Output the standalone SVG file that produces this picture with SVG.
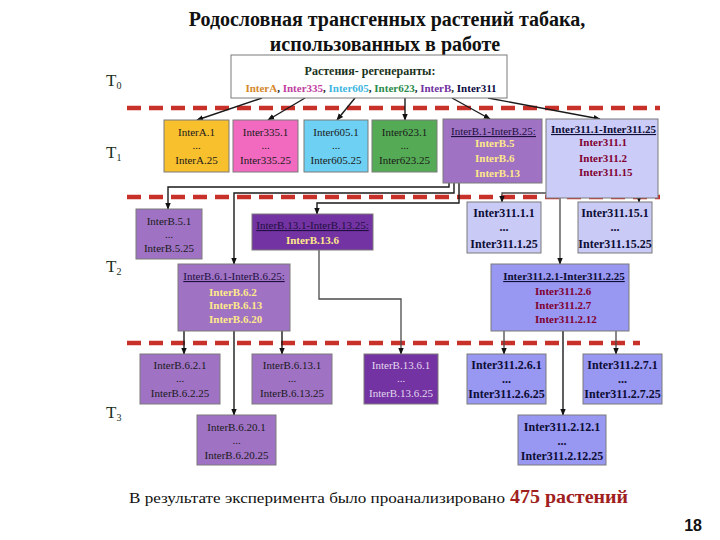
<svg xmlns="http://www.w3.org/2000/svg" width="720" height="540" viewBox="0 0 720 540">
<style>
.t{font-family:"Liberation Serif","Times New Roman",serif;}
.title{font-size:20px;font-weight:bold;fill:#111;text-anchor:middle}
.gl{font-size:17px;fill:#1a2e1a}
.gs{font-size:10px;fill:#1a2e1a}
.bx{stroke:#7a7a7a;stroke-width:1}
.yel{fill:#f9c02e}.pink{fill:#f26ac0}.blue{fill:#6ed0f2}.green{fill:#55ab55}
.pur{fill:#9f72c4}.dpur{fill:#7433a3}.lav{fill:#ccccf8}.lav2{fill:#c9cbf6}.peri{fill:#9898f2}
.n{font-size:11px;fill:#1a1a1a;text-anchor:middle}
.nb{font-size:12px;font-weight:bold;fill:#0d0d35;text-anchor:middle}
.hd{font-size:11px;fill:#1e1040;text-decoration:underline}
.hdb{font-size:11px;font-weight:bold;fill:#0d0d35;text-decoration:underline}
.yi{font-size:11px;font-weight:bold;fill:#ffe98a}
.ri{font-size:11px;font-weight:bold;fill:#800030}
.dash{stroke:#c8302a;stroke-width:4.5;stroke-dasharray:14 8;fill:none}
.c{fill:none;stroke:#1a1a1a;stroke-width:1.4}
.cg{fill:none;stroke:#4a4a4a;stroke-width:1.3}
.a{marker-end:url(#ah)}
</style>
<defs>
<marker id="ah" viewBox="0 0 10 10" refX="9" refY="5" markerWidth="7" markerHeight="7" markerUnits="userSpaceOnUse" orient="auto">
<path d="M0,1 L10,5 L0,9 z" fill="#111"/>
</marker>
</defs>
<rect width="720" height="540" fill="#fff"/>

<g id="title" class="t">
<text class="title t" x="387" y="26">Родословная трансгенных растений табака,</text>
<text class="title t" x="385" y="51">использованных в работе</text>
</g>

<g id="generations" class="t">
<text class="t gl" x="106" y="86">T<tspan class="gs" dy="3">0</tspan></text>
<text class="t gl" x="106" y="158">T<tspan class="gs" dy="3">1</tspan></text>
<text class="t gl" x="106" y="272">T<tspan class="gs" dy="3">2</tspan></text>
<text class="t gl" x="106" y="418">T<tspan class="gs" dy="3">3</tspan></text>
</g>

<g id="separators">
<line class="dash" x1="127" y1="108" x2="660" y2="108"/>
<line class="dash" x1="127" y1="197" x2="660" y2="197"/>
<line class="dash" x1="127" y1="343" x2="640" y2="343"/>
</g>

<g id="connectors">
<path class="c a" d="M262,98 L197,120"/>
<path class="c a" d="M305,98 L268,120"/>
<path class="c a" d="M355,98 L337,120"/>
<path class="c a" d="M405,98 L405,120"/>
<path class="c a" d="M452,98 L490,119"/>
<path class="c a" d="M488,98 L600,119"/>

<path class="c a" d="M472,143 H449 V187 H168 V209"/>
<path class="c a" d="M472,158 H454 V193 H234 V264"/>
<path class="c a" d="M473,173 H459 V203 H317 V214"/>

<path class="cg a" d="M577,143 H551 V193 H502 V202"/>
<path class="cg a" d="M578,158 H560 V264"/>
<path class="cg a" d="M630,172 H639 V202"/>

<path class="c a" d="M207,292 H184 V354"/>
<path class="c a" d="M264,302 H282 V354"/>
<path class="c a" d="M234,327 V415"/>
<path class="cg a" d="M319,250 V299 H401 V354"/>

<path class="cg a" d="M532,291 H504 V354"/>
<path class="c a" d="M563,327 V415"/>
<path class="cg a" d="M596,305 H616 V354"/>
</g>

<g id="root" class="t">
<rect class="bx" x="231" y="55" width="276" height="43" fill="#fff" stroke="#a0a0a0"/>
<text class="t" x="370" y="75" font-size="12" font-weight="bold" fill="#1a3320" text-anchor="middle">Растения- регенеранты:</text>
<text class="t" x="371" y="92" font-size="11" font-weight="bold" text-anchor="middle" fill="#111"><tspan fill="#d4872b">InterA</tspan>, <tspan fill="#c040a0">Inter335</tspan>, <tspan fill="#3fb6e0">Inter605</tspan>, <tspan fill="#2a8a4a">Inter623</tspan>, <tspan fill="#7030a0">InterB</tspan>, <tspan fill="#0a0a40">Inter311</tspan></text>
</g>

<g id="InterA" class="t">
<rect class="bx yel" x="164" y="120" width="65" height="52"/>
<text class="t n" x="196.5" y="136">InterA.1</text>
<text class="t n" x="196.5" y="149">...</text>
<text class="t n" x="196.5" y="164">InterA.25</text>
</g>
<g id="Inter335" class="t">
<rect class="bx pink" x="233" y="120" width="65" height="52"/>
<text class="t n" x="265.5" y="136">Inter335.1</text>
<text class="t n" x="265.5" y="149">...</text>
<text class="t n" x="265.5" y="164">Inter335.25</text>
</g>
<g id="Inter605" class="t">
<rect class="bx blue" x="304" y="120" width="64" height="52"/>
<text class="t n" x="336" y="136">Inter605.1</text>
<text class="t n" x="336" y="149">...</text>
<text class="t n" x="336" y="164">Inter605.25</text>
</g>
<g id="Inter623" class="t">
<rect class="bx green" x="372" y="120" width="65" height="52"/>
<text class="t n" x="404.5" y="136">Inter623.1</text>
<text class="t n" x="404.5" y="149">...</text>
<text class="t n" x="404.5" y="164">Inter623.25</text>
</g>
<g id="InterB" class="t">
<rect class="bx pur" x="443" y="119" width="99" height="64"/>
<text class="t hd" x="451" y="135">InterB.1-InterB.25:</text>
<text class="t yi" x="475" y="147">InterB.5</text>
<text class="t yi" x="475" y="162">InterB.6</text>
<text class="t yi" x="475" y="177">InterB.13</text>
</g>
<g id="Inter311" class="t">
<rect class="bx lav" x="546" y="119" width="112" height="79" stroke="#b0b0c8"/>
<text class="t hdb" x="551" y="133">Inter311.1-Inter311.25</text>
<text class="t ri" x="579" y="146">Inter311.1</text>
<text class="t ri" x="579" y="162">Inter311.2</text>
<text class="t ri" x="579" y="176">Inter311.15</text>
</g>

<g id="InterB5" class="t">
<rect class="bx pur" x="136" y="209" width="66" height="50"/>
<text class="t n" x="169" y="225">InterB.5.1</text>
<text class="t n" x="169" y="238">...</text>
<text class="t n" x="169" y="252">InterB.5.25</text>
</g>
<g id="InterB13" class="t">
<rect class="bx dpur" x="252" y="214" width="121" height="36"/>
<text class="t hd" x="312.5" y="229" text-anchor="middle">InterB.13.1-InterB.13.25:</text>
<text class="t yi" x="312.5" y="244" text-anchor="middle">InterB.13.6</text>
</g>
<g id="InterB6" class="t">
<rect class="bx pur" x="178" y="264" width="112" height="67"/>
<text class="t hd" x="234" y="280" text-anchor="middle">InterB.6.1-InterB.6.25:</text>
<text class="t yi" x="209" y="296">InterB.6.2</text>
<text class="t yi" x="209" y="309">InterB.6.13</text>
<text class="t yi" x="209" y="323">InterB.6.20</text>
</g>
<g id="Inter311_1" class="t">
<rect class="bx lav2" x="467" y="202" width="74" height="51"/>
<text class="t nb" x="504" y="217">Inter311.1.1</text>
<text class="t nb" x="504" y="231">...</text>
<text class="t nb" x="504" y="248">Inter311.1.25</text>
</g>
<g id="Inter311_15" class="t">
<rect class="bx lav2" x="578" y="202" width="74" height="51"/>
<text class="t nb" x="615" y="217">Inter311.15.1</text>
<text class="t nb" x="615" y="231">...</text>
<text class="t nb" x="615" y="248">Inter311.15.25</text>
</g>
<g id="Inter311_2" class="t">
<rect class="bx peri" x="491" y="264" width="138" height="67"/>
<text class="t hdb" x="564" y="280" text-anchor="middle">Inter311.2.1-Inter311.2.25</text>
<text class="t ri" x="535" y="295">Inter311.2.6</text>
<text class="t ri" x="535" y="309">Inter311.2.7</text>
<text class="t ri" x="535" y="323">Inter311.2.12</text>
</g>

<g id="InterB6_2" class="t">
<rect class="bx pur" x="140" y="354" width="80" height="50"/>
<text class="t n" x="180" y="369">InterB.6.2.1</text>
<text class="t n" x="180" y="382">...</text>
<text class="t n" x="180" y="397">InterB.6.2.25</text>
</g>
<g id="InterB6_13" class="t">
<rect class="bx pur" x="252" y="354" width="80" height="50"/>
<text class="t n" x="292" y="369">InterB.6.13.1</text>
<text class="t n" x="292" y="382">...</text>
<text class="t n" x="292" y="397">InterB.6.13.25</text>
</g>
<g id="InterB13_6" class="t">
<rect class="bx dpur" x="364" y="354" width="74" height="50"/>
<text class="t n" x="401" y="369" style="fill:#e2d8ee">InterB.13.6.1</text>
<text class="t n" x="401" y="382" style="fill:#e2d8ee">...</text>
<text class="t n" x="401" y="397" style="fill:#e2d8ee">InterB.13.6.25</text>
</g>
<g id="InterB6_20" class="t">
<rect class="bx pur" x="197" y="415" width="79" height="50"/>
<text class="t n" x="236.5" y="431">InterB.6.20.1</text>
<text class="t n" x="236.5" y="444">...</text>
<text class="t n" x="236.5" y="459">InterB.6.20.25</text>
</g>
<g id="Inter311_2_6" class="t">
<rect class="bx peri" x="467" y="354" width="79" height="50"/>
<text class="t nb" x="506.5" y="369">Inter311.2.6.1</text>
<text class="t nb" x="506.5" y="383">...</text>
<text class="t nb" x="506.5" y="398">Inter311.2.6.25</text>
</g>
<g id="Inter311_2_7" class="t">
<rect class="bx peri" x="583" y="354" width="79" height="50"/>
<text class="t nb" x="622.5" y="369">Inter311.2.7.1</text>
<text class="t nb" x="622.5" y="383">...</text>
<text class="t nb" x="622.5" y="398">Inter311.2.7.25</text>
</g>
<g id="Inter311_2_12" class="t">
<rect class="bx peri" x="518" y="415" width="88" height="50"/>
<text class="t nb" x="562" y="431">Inter311.2.12.1</text>
<text class="t nb" x="562" y="445">...</text>
<text class="t nb" x="562" y="460">Inter311.2.12.25</text>
</g>

<g id="footer">
<text class="t" x="129" y="503" font-size="15" fill="#111" textLength="376" lengthAdjust="spacingAndGlyphs">В результате эксперимента было проанализировано</text>
<text class="t" x="510" y="503" font-size="18" font-weight="bold" fill="#a02020" textLength="118" lengthAdjust="spacingAndGlyphs">475 растений</text>
<text x="702" y="531" font-family="'Liberation Sans', Arial, sans-serif" font-size="16" font-weight="bold" fill="#111" text-anchor="end">18</text>
</g>
</svg>
